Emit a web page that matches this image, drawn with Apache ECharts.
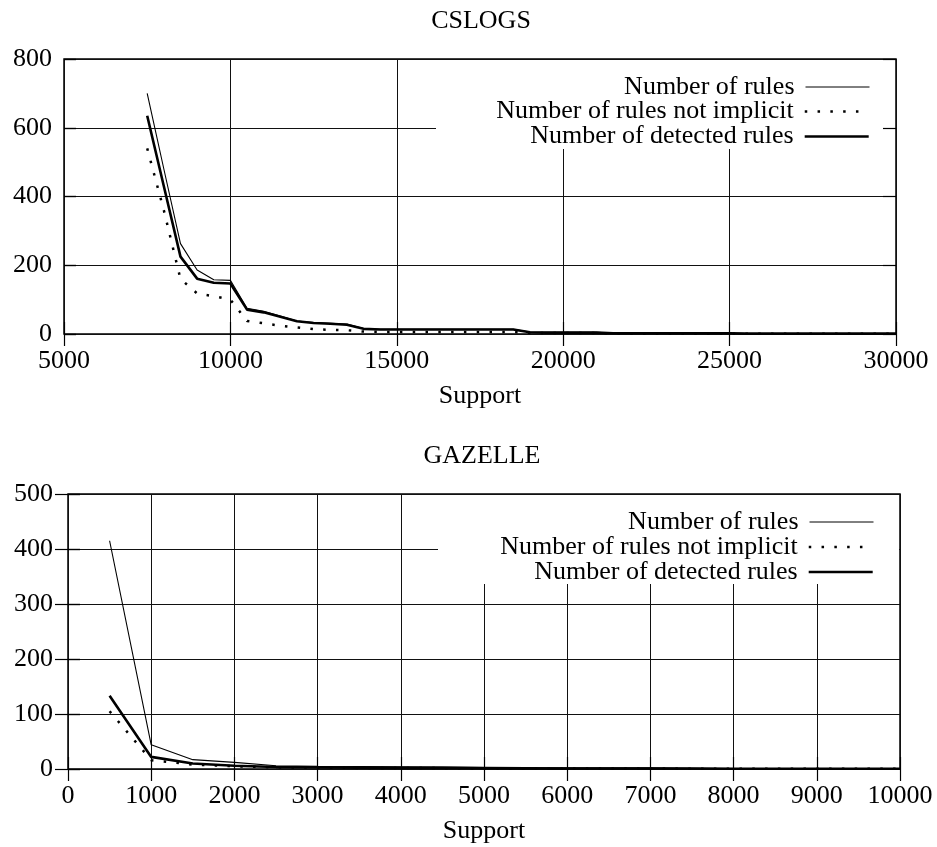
<!DOCTYPE html>
<html>
<head>
<meta charset="utf-8">
<script src="https://cdn.jsdelivr.net/npm/echarts@6/dist/echarts.min.js"></script>
<style>
  html, body { margin: 0; padding: 0; background: #fff; }
  #main { width: 937px; height: 847px; }
</style>
</head>
<body>
<div id="main"></div>
<script>
// CSLOGS (top panel)
const supportCs = [7500, 8000, 8500, 9000, 9500, 10000, 10500, 11000, 11500, 12000, 12500, 13000, 13500,
  14000, 14500, 15000, 15500, 16000, 16500, 17000, 17500, 18000, 18500, 19000, 19500, 20000, 20500, 21000,
  21500, 22000, 22500, 23000, 23500, 24000, 24500, 25000, 25500, 26000, 26500, 27000, 27500, 28000, 28500,
  29000, 29500, 30000]
const rulesCs = [700, 480, 263, 186, 158, 156, 75, 66, 52, 38, 33, 31, 29,
  16, 14, 14, 14, 14, 14, 14, 14, 14, 14, 6, 5, 5, 5, 5,
  3, 2, 2, 2, 2, 2, 2, 2, 1, 1, 1, 1, 1, 1, 1,
  1, 1, 1]
const notImplicitCs = [540, 360, 160, 118, 110, 100, 38, 31, 24, 19, 14, 12, 11,
  7, 6, 6, 6, 6, 6, 6, 6, 6, 6, 3, 3, 3, 3, 3,
  2, 1, 1, 1, 1, 1, 1, 1, 1, 1, 1, 1, 1, 1, 1,
  1, 1, 1]
const detectedCs = [635, 430, 225, 161, 149, 147, 71, 63, 50, 37, 32, 30, 27,
  15, 13, 13, 13, 13, 13, 13, 13, 13, 13, 5, 4, 4, 4, 4,
  2, 2, 2, 2, 2, 2, 2, 2, 1, 1, 1, 1, 1, 1, 1,
  1, 1, 1]

// GAZELLE (bottom panel)
const supportGz = [500, 1000, 1500, 2000, 2500, 3000, 3500, 4000, 4500, 5000,
  5500, 6000, 6500, 7000, 7500, 8000, 8500, 9000, 9500, 10000]
const rulesGz = [415, 44, 17, 12, 6, 5, 4.5, 4, 3.5, 3, 2.5, 2, 2, 2, 1.5, 1, 1, 1, 1, 1]
const notImplicitGz = [105, 16, 8, 5, 3, 2.5, 2, 2, 1.5, 1, 1, 1, 1, 1, 0.5, 0.5, 0.5, 0.5, 0.5, 0.5]
const detectedGz = [133, 22, 10, 6, 3.5, 3, 2.5, 2, 2, 1.5, 1, 1, 1, 1, 1, 0.5, 0.5, 0.5, 0.5, 0.5]

const names = ['Number of rules', 'Number of rules not implicit', 'Number of detected rules']

const FONT = 'Liberation Serif'
const FS = 26

const pairs = (xs, ys) => xs.map((x, i) => [x, ys[i]])

const lineStyles = [
  { color: '#000', width: 1.1, type: 'solid' },
  { color: '#000', width: 2.5, type: [2.5, 10.3], cap: 'butt' },
  { color: '#000', width: 2.6, type: 'solid' }
]

const makeSeries = (grid, xs, lists) => lists.map((ys, i) => ({
  name: names[i],
  type: 'line',
  xAxisIndex: grid * 2,
  yAxisIndex: grid * 2,
  data: pairs(xs, ys),
  symbol: 'none',
  showSymbol: false,
  animation: false,
  lineStyle: lineStyles[i],
  itemStyle: { color: '#000' },
  z: 2 + (2 - i)
}))

const plain = v => String(v)

const mainX = (grid, min, max, interval) => ({
  type: 'value', gridIndex: grid, position: 'bottom', min, max, interval,
  name: 'Support', nameLocation: 'middle', nameGap: 49,
  nameTextStyle: { fontFamily: FONT, fontSize: FS, color: '#000' },
  axisLine: { show: false },
  axisTick: { show: true, inside: true, length: 12, lineStyle: { color: '#000', width: 1.2 } },
  axisLabel: { fontFamily: FONT, fontSize: FS, color: '#000', margin: 14, formatter: plain, showMinLabel: true, showMaxLabel: true },
  splitLine: { show: true, lineStyle: { color: '#111', width: 1 } }
})
const mirrorX = (grid, min, max, interval) => ({
  type: 'value', gridIndex: grid, position: 'top', min, max, interval, z: 3,
  axisLine: { show: false },
  axisTick: { show: true, inside: true, length: 12, lineStyle: { color: '#000', width: 1.2 } },
  axisLabel: { show: false },
  splitLine: { show: false }
})
const mainY = (grid, max, interval, margin) => ({
  type: 'value', gridIndex: grid, position: 'left', min: 0, max, interval,
  axisLine: { show: false },
  axisTick: { show: true, inside: true, length: 12, lineStyle: { color: '#000', width: 1.4 } },
  axisLabel: { fontFamily: FONT, fontSize: FS, color: '#000', margin, formatter: plain },
  splitLine: { show: true, lineStyle: { color: '#111', width: 1 } }
})
const mirrorY = (grid, max, interval) => ({
  type: 'value', gridIndex: grid, position: 'right', min: 0, max, interval, z: 3,
  axisLine: { show: false },
  axisTick: { show: true, inside: true, length: 13, lineStyle: { color: '#000', width: 1.2 } },
  axisLabel: { show: false },
  splitLine: { show: false }
})

const makeLegends = (rightPx, tops) => names.map((n, i) => ({
  data: [n],
  orient: 'vertical',
  right: rightPx,
  top: tops[i],
  padding: 0,
  align: 'right',
  itemWidth: 64,
  itemHeight: 12,
  selectedMode: false,
  itemStyle: { opacity: 0 },
  lineStyle: Object.assign({}, lineStyles[i], { width: i === 0 ? 1 : lineStyles[i].width }),
  textStyle: { fontFamily: FONT, fontSize: FS, color: '#000', padding: [0, 6, 0, 0] },
  z: 5
}))

const myChart = echarts.init(document.getElementById('main'), null, { renderer: 'canvas' })

const option = {
  backgroundColor: '#fff',
  animation: false,
  title: [
    { text: 'CSLOGS', left: 481, top: 8, textAlign: 'center', padding: 0,
      textStyle: { fontFamily: FONT, fontSize: FS, fontWeight: 'normal', color: '#000' } },
    { text: 'GAZELLE', left: 482, top: 443, textAlign: 'center', padding: 0,
      textStyle: { fontFamily: FONT, fontSize: FS, fontWeight: 'normal', color: '#000' } }
  ],
  grid: [
    { left: 64, top: 59, width: 832, height: 275, show: true, borderColor: '#000', borderWidth: 1.5, backgroundColor: 'transparent' },
    { left: 68, top: 494, width: 832, height: 275, show: true, borderColor: '#000', borderWidth: 1.5, backgroundColor: 'transparent' }
  ],
  xAxis: [
    mainX(0, 5000, 30000, 5000), mirrorX(0, 5000, 30000, 5000),
    mainX(1, 0, 10000, 1000), mirrorX(1, 0, 10000, 1000)
  ],
  yAxis: [
    mainY(0, 800, 200, 12), mirrorY(0, 800, 200),
    mainY(1, 500, 100, 15), mirrorY(1, 500, 100)
  ],
  legend: [
    ...makeLegends(67, [74, 98.5, 123.5]),
    ...makeLegends(63, [509, 534, 559])
  ],
  // key boxes hide the grid lines behind the legends, as in the original plot
  graphic: [
    { type: 'rect', z: 1, silent: true, shape: { x: 436, y: 60, width: 459, height: 89 }, style: { fill: '#fff' } },
    { type: 'rect', z: 1, silent: true, shape: { x: 438, y: 495, width: 461, height: 89 }, style: { fill: '#fff' } }
  ],
  series: [
    ...makeSeries(0, supportCs, [rulesCs, notImplicitCs, detectedCs]),
    ...makeSeries(1, supportGz, [rulesGz, notImplicitGz, detectedGz])
  ]
}

myChart.setOption(option)
</script>
</body>
</html>
